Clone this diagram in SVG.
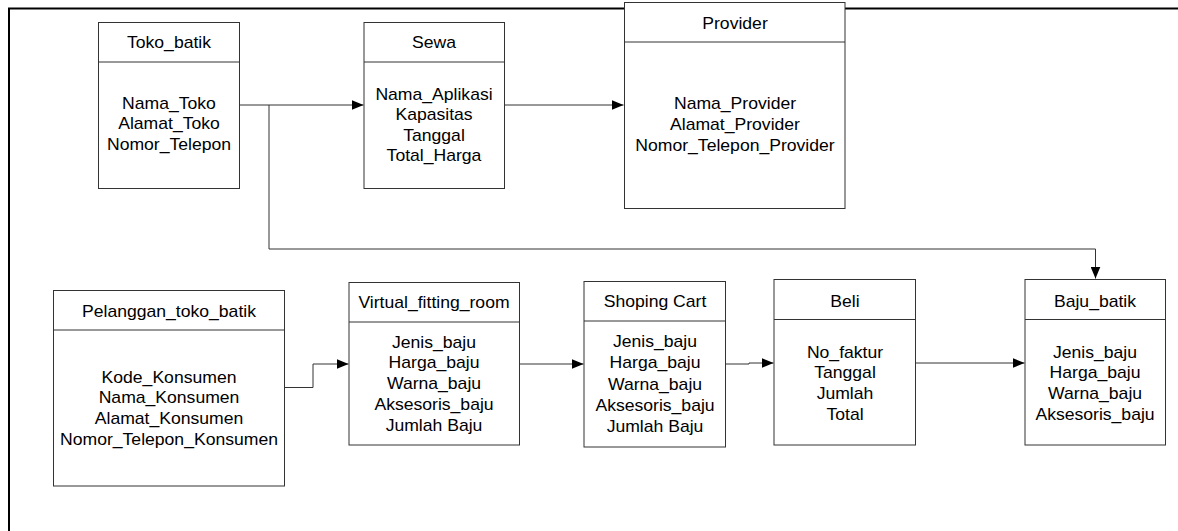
<svg xmlns="http://www.w3.org/2000/svg" width="1178" height="531" viewBox="0 0 1178 531">
  <style>
    .frame { fill: none; stroke: #000; stroke-width: 2; }
    .box { fill: #fff; stroke: #333; stroke-width: 1; }
    .sep { stroke: #333; stroke-width: 1; }
    .wire { fill: none; stroke: #333; stroke-width: 1; }
    .t { font-family: "Liberation Sans", Arial, sans-serif; font-size: 16px; fill: #000; text-anchor: middle; }
  </style>
  <defs>
    <marker id="arrow" viewBox="0 0 12 10" refX="12" refY="5" markerWidth="12" markerHeight="10" markerUnits="userSpaceOnUse" orient="auto">
      <path d="M0,0 L12,5 L0,10 Z" fill="#000"/>
    </marker>
  </defs>
  <rect width="1178" height="531" fill="#fff"/>

  <!-- page border: top and left edges -->
  <path class="frame" d="M9,531 V8.5 H1178"/>

  <g id="connectors">
    <path class="wire" d="M239.5,105 H363.5" marker-end="url(#arrow)"/>
    <path class="wire" d="M269,105 V249 H1095.5 V278.5" marker-end="url(#arrow)"/>
    <path class="wire" d="M504.5,105 H623.5" marker-end="url(#arrow)"/>
    <path class="wire" d="M284.5,387.5 H313 V364 H348.5" marker-end="url(#arrow)"/>
    <path class="wire" d="M519.5,364 H583.5" marker-end="url(#arrow)"/>
    <path class="wire" d="M725.5,364 H749 V363 H773.5" marker-end="url(#arrow)"/>
    <path class="wire" d="M915.5,363 H1024.5" marker-end="url(#arrow)"/>
  </g>

  <g id="toko_batik">
    <rect class="box" x="98.5" y="22.5" width="141" height="166"/>
    <line class="sep" x1="98.5" y1="62" x2="239.5" y2="62"/>
    <text class="t" transform="translate(169,48) scale(1.1 1)">Toko_batik</text>
    <text class="t" transform="translate(169,109) scale(1.1 1)"><tspan x="0" y="0">Nama_Toko</tspan><tspan x="0" y="20.5">Alamat_Toko</tspan><tspan x="0" y="41">Nomor_Telepon</tspan></text>
  </g>

  <g id="sewa">
    <rect class="box" x="364" y="22.5" width="140.5" height="166"/>
    <line class="sep" x1="364" y1="62" x2="504.5" y2="62"/>
    <text class="t" transform="translate(434,48) scale(1.1 1)">Sewa</text>
    <text class="t" transform="translate(434,100) scale(1.1 1)"><tspan x="0" y="0">Nama_Aplikasi</tspan><tspan x="0" y="20.5">Kapasitas</tspan><tspan x="0" y="41">Tanggal</tspan><tspan x="0" y="61.5">Total_Harga</tspan></text>
  </g>

  <g id="provider">
    <rect class="box" x="624.5" y="2.5" width="220.5" height="206"/>
    <line class="sep" x1="624.5" y1="42" x2="845" y2="42"/>
    <text class="t" transform="translate(735,28.5) scale(1.1 1)">Provider</text>
    <text class="t" transform="translate(735,109) scale(1.1 1)"><tspan x="0" y="0">Nama_Provider</tspan><tspan x="0" y="21">Alamat_Provider</tspan><tspan x="0" y="42">Nomor_Telepon_Provider</tspan></text>
  </g>

  <g id="pelanggan_toko_batik">
    <rect class="box" x="53.5" y="290.5" width="231" height="195.5"/>
    <line class="sep" x1="53.5" y1="330" x2="284.5" y2="330"/>
    <text class="t" transform="translate(169,316.5) scale(1.1 1)">Pelanggan_toko_batik</text>
    <text class="t" transform="translate(169,382.5) scale(1.1 1)"><tspan x="0" y="0">Kode_Konsumen</tspan><tspan x="0" y="21">Nama_Konsumen</tspan><tspan x="0" y="42">Alamat_Konsumen</tspan><tspan x="0" y="63">Nomor_Telepon_Konsumen</tspan></text>
  </g>

  <g id="virtual_fitting_room">
    <rect class="box" x="349" y="282.5" width="170.5" height="162.5"/>
    <line class="sep" x1="349" y1="322" x2="519.5" y2="322"/>
    <text class="t" transform="translate(434,308) scale(1.1 1)">Virtual_fitting_room</text>
    <text class="t" transform="translate(434,347.5) scale(1.1 1)"><tspan x="0" y="0">Jenis_baju</tspan><tspan x="0" y="21">Harga_baju</tspan><tspan x="0" y="42">Warna_baju</tspan><tspan x="0" y="63">Aksesoris_baju</tspan><tspan x="0" y="84">Jumlah Baju</tspan></text>
  </g>

  <g id="shoping_cart">
    <rect class="box" x="584" y="281.5" width="141.5" height="165.5"/>
    <line class="sep" x1="584" y1="321" x2="725.5" y2="321"/>
    <text class="t" transform="translate(655,307) scale(1.1 1)">Shoping Cart</text>
    <text class="t" transform="translate(655,347) scale(1.1 1)"><tspan x="0" y="0">Jenis_baju</tspan><tspan x="0" y="21.3">Harga_baju</tspan><tspan x="0" y="42.6">Warna_baju</tspan><tspan x="0" y="63.9">Aksesoris_baju</tspan><tspan x="0" y="85.2">Jumlah Baju</tspan></text>
  </g>

  <g id="beli">
    <rect class="box" x="774" y="279.5" width="141.5" height="165.5"/>
    <line class="sep" x1="774" y1="319.5" x2="915.5" y2="319.5"/>
    <text class="t" transform="translate(845,307) scale(1.1 1)">Beli</text>
    <text class="t" transform="translate(845,357.5) scale(1.1 1)"><tspan x="0" y="0">No_faktur</tspan><tspan x="0" y="21">Tanggal</tspan><tspan x="0" y="42">Jumlah</tspan><tspan x="0" y="63">Total</tspan></text>
  </g>

  <g id="baju_batik">
    <rect class="box" x="1025" y="279.5" width="140.5" height="165.5"/>
    <line class="sep" x1="1025" y1="319.5" x2="1165.5" y2="319.5"/>
    <text class="t" transform="translate(1095,307) scale(1.1 1)">Baju_batik</text>
    <text class="t" transform="translate(1095,357.5) scale(1.1 1)"><tspan x="0" y="0">Jenis_baju</tspan><tspan x="0" y="21">Harga_baju</tspan><tspan x="0" y="42">Warna_baju</tspan><tspan x="0" y="63">Aksesoris_baju</tspan></text>
  </g>
</svg>
